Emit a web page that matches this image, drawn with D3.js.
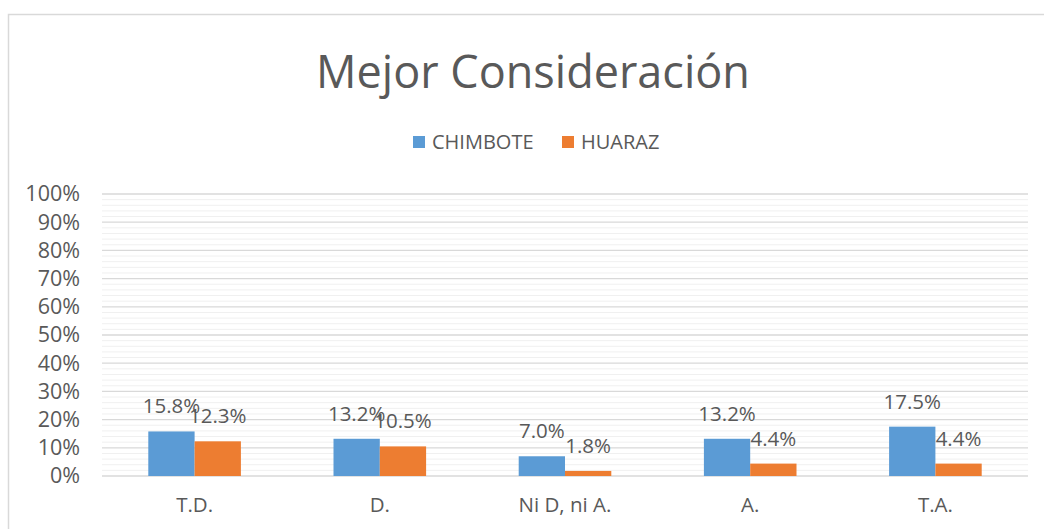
<!DOCTYPE html>
<html>
<head>
<meta charset="utf-8">
<script src="https://cdn.jsdelivr.net/npm/d3@7"></script>
<style>
  body { margin: 0; background: #fff; }
  svg { display: block; font-family: "Open Sans", sans-serif; }
</style>
</head>
<body>
<svg id="chart" width="1044" height="529"></svg>
<script>
const categories = ["T.D.", "D.", "Ni D, ni A.", "A.", "T.A."];
const seriesNames = ["CHIMBOTE", "HUARAZ"];
const chimbote = [15.8, 13.2, 7.0, 13.2, 17.5];
const huaraz = [12.3, 10.5, 1.8, 4.4, 4.4];
const yTicks = [0, 10, 20, 30, 40, 50, 60, 70, 80, 90, 100];

const colors = { CHIMBOTE: "#5b9bd5", HUARAZ: "#ed7d31" };
const textColor = "#595959";

const svg = d3.select("#chart");
const margin = { left: 102, right: 1028, top: 194, bottom: 476 };

// outer chart border (cropped at right and bottom)
svg.append("path")
  .attr("d", "M8.5,529 V14.5 H1044")
  .attr("fill", "none")
  .attr("stroke", "#d9d9d9")
  .attr("stroke-width", 1.5);

const x = d3.scaleBand()
  .domain(categories)
  .range([margin.left, margin.right])
  .paddingInner(0.5)
  .paddingOuter(0.25);

const xs = d3.scaleBand()
  .domain(seriesNames)
  .range([0, x.bandwidth()]);

const y = d3.scaleLinear()
  .domain([0, 100])
  .range([margin.bottom, margin.top]);

// minor gridlines every 2%
const grid = svg.append("g");
grid.selectAll("line.minor")
  .data(d3.range(0, 101, 2).filter(v => v % 10 !== 0))
  .join("line")
  .attr("class", "minor")
  .attr("x1", margin.left).attr("x2", margin.right)
  .attr("y1", d => y(d)).attr("y2", d => y(d))
  .attr("stroke", "#f0f0f0").attr("stroke-width", 1);

grid.selectAll("line.major")
  .data(yTicks)
  .join("line")
  .attr("class", "major")
  .attr("x1", margin.left).attr("x2", margin.right)
  .attr("y1", d => y(d)).attr("y2", d => y(d))
  .attr("stroke", "#d9d9d9").attr("stroke-width", 1.3);

// y axis labels
const yAxis = svg.append("g")
  .attr("transform", `translate(${margin.left - 22},0)`)
  .call(d3.axisLeft(y).tickValues(yTicks).tickSize(0).tickPadding(0).tickFormat(d => d + "%"));
yAxis.select(".domain").remove();
yAxis.selectAll("text")
  .attr("fill", textColor)
  .attr("font-size", 21.5)
  .attr("font-family", "Open Sans, sans-serif");

// x axis labels
const xAxis = svg.append("g")
  .attr("transform", `translate(0,${margin.bottom})`)
  .call(d3.axisBottom(x).tickSize(0).tickPadding(21));
xAxis.select(".domain").remove();
xAxis.selectAll("text")
  .attr("fill", textColor)
  .attr("font-size", 20.5)
  .attr("font-family", "Open Sans, sans-serif");

// bars
const rows = categories.map((c, i) => ({ category: c, values: [
  { series: "CHIMBOTE", value: chimbote[i] },
  { series: "HUARAZ", value: huaraz[i] }
] }));

const groups = svg.append("g").selectAll("g")
  .data(rows)
  .join("g")
  .attr("transform", d => `translate(${x(d.category)},0)`);

groups.selectAll("rect")
  .data(d => d.values)
  .join("rect")
  .attr("x", d => xs(d.series))
  .attr("y", d => y(d.value))
  .attr("width", xs.bandwidth())
  .attr("height", d => y(0) - y(d.value))
  .attr("fill", d => colors[d.series]);

groups.selectAll("text")
  .data(d => d.values)
  .join("text")
  .attr("x", d => xs(d.series) + xs.bandwidth() / 2)
  .attr("y", d => y(d.value) - 18)
  .attr("text-anchor", "middle")
  .attr("fill", textColor)
  .attr("font-size", 20.5)
  .text(d => d.value.toFixed(1) + "%");

// title
svg.append("text")
  .attr("x", 533)
  .attr("y", 88)
  .attr("text-anchor", "middle")
  .attr("fill", textColor)
  .attr("font-size", 45)
  .text("Mejor Consideración");

// legend
const legend = svg.append("g").selectAll("g")
  .data(seriesNames)
  .join("g")
  .attr("transform", (d, i) => `translate(${i === 0 ? 413 : 562},136)`);

legend.append("rect")
  .attr("width", 12).attr("height", 12)
  .attr("fill", d => colors[d]);

legend.append("text")
  .attr("x", 19)
  .attr("y", 13)
  .attr("fill", textColor)
  .attr("font-size", 20)
  .text(d => d);
</script>
</body>
</html>
